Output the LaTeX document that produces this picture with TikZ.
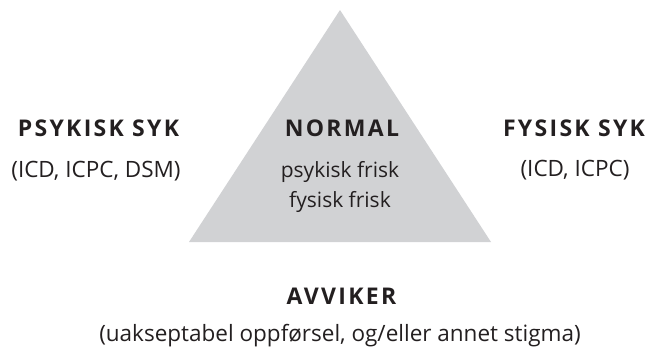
\documentclass[tikz,border=0pt]{standalone}
\usepackage{fontspec}
\setmainfont{Open Sans}
\newfontfamily\capsfont[LetterSpace=10]{Open Sans}
\definecolor{tri}{RGB}{209,210,212}
\definecolor{ink}{RGB}{35,31,32}
\begin{document}
\begin{tikzpicture}[x=1pt,y=-1pt,
  head/.style={anchor=base,inner sep=0pt,text=ink,font=\capsfont\bfseries\fontsize{23}{27}\selectfont},
  body/.style={anchor=base,inner sep=0pt,text=ink,font=\fontsize{22.5}{27}\selectfont},
  inner/.style={anchor=base,inner sep=0pt,text=ink,font=\fontsize{21}{25}\selectfont}]
\useasboundingbox (0,0) rectangle (652,349);
\fill[tri] (340,10) -- (491,242) -- (189,242) -- cycle;
\node[head] (psyk) at (98.5,136) {PSYKISK SYK};
\node[body] (psykc) at (96,177) {(ICD, ICPC, DSM)};
\node[head] (norm) at (342,136) {NORMAL};
\node[inner] (pf) at (340,177) {psykisk frisk};
\node[inner] (ff) at (340,207) {fysisk frisk};
\node[head] (fys) at (574,136) {FYSISK SYK};
\node[body] (fysc) at (575,176) {(ICD, ICPC)};
\node[head] (avv) at (341.5,304) {AVVIKER};
\node[body] (avvc) at (340,341) {(uakseptabel oppførsel, og/eller annet stigma)};
\end{tikzpicture}
\end{document}
